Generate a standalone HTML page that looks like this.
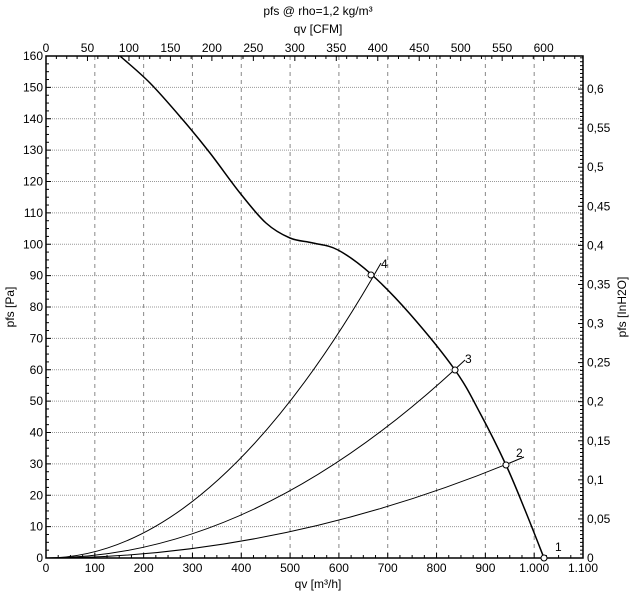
<!DOCTYPE html>
<html><head><meta charset="utf-8"><style>
html,body{margin:0;padding:0;background:#fff;}
svg{display:block;font-family:"Liberation Sans",Arial,sans-serif;}
</style></head><body>
<svg id="s" width="636" height="596" viewBox="0 0 636 596" xmlns="http://www.w3.org/2000/svg">
<rect width="636" height="596" fill="#fff"/>
<text x="318" y="15" font-size="12" text-anchor="middle">pfs @ rho=1,2 kg/m³</text>
<text x="318" y="33" font-size="12" text-anchor="middle">qv [CFM]</text>
<text x="318" y="588" font-size="12" text-anchor="middle">qv [m³/h]</text>
<text transform="translate(14,307) rotate(-90)" font-size="12" text-anchor="middle">pfs [Pa]</text>
<text transform="translate(626,307) rotate(-90)" font-size="12" text-anchor="middle">pfs [InH2O]</text>
<g id="g"></g>
<path id="c" d="" fill="none" stroke="#000" stroke-width="1.5"/>
<g fill="none" stroke="#000" stroke-width="1">
<path d="M46,558 Q213,558 381,263"/>
<path d="M46,558 Q255,558 465,360"/>
<path d="M46,558 Q285,558 524,457"/>
</g>
<g fill="#fff" stroke="#000" stroke-width="1">
<circle cx="371" cy="275" r="3"/><circle cx="455" cy="370" r="3"/><circle cx="506" cy="465" r="3"/><circle cx="544" cy="558" r="3"/>
</g>
<g font-size="12" fill="#000">
<text x="381" y="268">4</text><text x="465" y="363">3</text><text x="516" y="457">2</text><text x="555" y="551">1</text>
</g>
</svg>
<script>
var pts=[[120,56],[150,83],[183,120],[210,153],[240,193],[266,223],[290,238],[313,243],[338,250],[371,274],[410,314],[455,370],[480,413],[506,465],[525,510],[544,558]];
var d='M'+pts[0][0]+','+pts[0][1];
for(var i=0;i<pts.length-1;i++){var p0=pts[i-1]||pts[i],p1=pts[i],p2=pts[i+1],p3=pts[i+2]||p2;
var c1x=p1[0]+(p2[0]-p0[0])/6,c1y=p1[1]+(p2[1]-p0[1])/6,c2x=p2[0]-(p3[0]-p1[0])/6,c2y=p2[1]-(p3[1]-p1[1])/6;
d+=' C'+c1x+','+c1y+' '+c2x+','+c2y+' '+p2[0]+','+p2[1];}
document.getElementById('c').setAttribute('d',d);
var g=document.getElementById('g'),h='';
var L=46,R=583,T=56,B=558,xs=(R-L)/1100,ys=(B-T)/160;
function X(q){return L+q*xs}function Y(p){return B-p*ys}
for(var q=100;q<1100;q+=100)h+='<line x1="'+X(q)+'" y1="'+T+'" x2="'+X(q)+'" y2="'+B+'" stroke="#888" stroke-dasharray="4,4"/>';
for(var p=10;p<160;p+=10)h+='<line x1="'+L+'" y1="'+Y(p)+'" x2="'+R+'" y2="'+Y(p)+'" stroke="#999" stroke-dasharray="1,1"/>';
h+='<rect x="'+L+'" y="'+T+'" width="'+(R-L)+'" height="'+(B-T)+'" fill="none" stroke="#000" stroke-width="1.5"/>';
for(var q=0;q<=1100;q+=25){var big=q%100==0;h+='<line x1="'+X(q)+'" y1="'+B+'" x2="'+X(q)+'" y2="'+(B-(big?5:3))+'" stroke="#000"/>';
 if(big){var t=q>=1000?(q==1000?'1.000':'1.100'):q;h+='<text x="'+X(q)+'" y="'+(B+14)+'" font-size="12" text-anchor="middle">'+t+'</text>';}}
for(var c=0;c<=640;c+=12.5){var qq=c*1.699,x=X(qq);if(x>R)break;var big=c%50==0;h+='<line x1="'+x+'" y1="'+T+'" x2="'+x+'" y2="'+(T+(big?5:3))+'" stroke="#000"/>';
 if(big)h+='<text x="'+x+'" y="'+(T-4)+'" font-size="12" text-anchor="middle">'+c+'</text>';}
for(var p=0;p<=160;p+=2.5){var big=p%10==0;h+='<line x1="'+L+'" y1="'+Y(p)+'" x2="'+(L+(big?5:3))+'" y2="'+Y(p)+'" stroke="#000"/>';
 if(big)h+='<text x="'+(L-3)+'" y="'+(Y(p)+4)+'" font-size="12" text-anchor="end">'+p+'</text>';}
for(var i=0;i<=130;i++){var w=i*0.005,p=w*249.09,y=Y(p);if(y<T)break;var big=i%10==0;h+='<line x1="'+R+'" y1="'+y+'" x2="'+(R-(big?5:3))+'" y2="'+y+'" stroke="#000"/>';
 if(i%10==0){var t=i==0?'0':String(+(w.toFixed(2))).replace('.',',');h+='<text x="'+(R+4)+'" y="'+(y+4)+'" font-size="12">'+t+'</text>';}}
g.innerHTML=h;
</script>
</body></html>
